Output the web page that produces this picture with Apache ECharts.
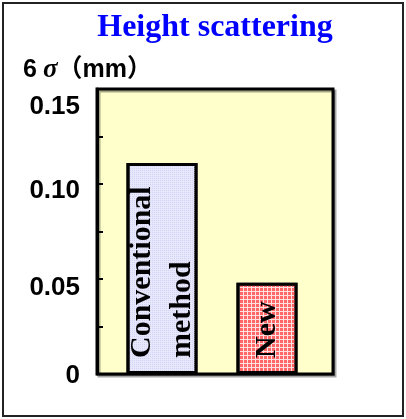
<!DOCTYPE html>
<html>
<head>
<meta charset="utf-8">
<script src="https://cdn.jsdelivr.net/npm/echarts@6/dist/echarts.min.js"></script>
<style>
  html, body { margin: 0; padding: 0; background: #fff; }
  #chart { width: 406px; height: 419px; }
</style>
</head>
<body>
<div id="chart"></div>
<script>
// Height scattering (6 sigma) for the two processes
const categories = ['Conventional\nmethod', 'New'];
const values = [0.111, 0.048];
const yTickValues = [0, 0.05, 0.1, 0.15];
const yTickLabels = ['0', '0.05', '0.10', '0.15'];

// downward nudge (px) of each tick label
const labelShift = [2, 9, 7, 18];

const chart = echarts.init(document.getElementById('chart'));

const barLabel = {
  show: true,
  position: 'insideBottom',
  rotate: 90,
  align: 'left',
  verticalAlign: 'middle',
  distance: 16,
  fontFamily: 'Liberation Serif',
  fontWeight: 'bold',
  fontSize: 30,
  lineHeight: 40,
  color: '#000',
  formatter: p => p.name
};

// one grid per bar so each bar keeps its own width and position
const barGrids = [
  { left: 112, right: 194, top: 89, bottom: 45 },
  { left: 217, right: 89, top: 89, bottom: 45 }
];
const barWidths = [71, 61];
const barStyles = [
  {
    color: '#e8e8fd',
    borderColor: '#000',
    borderWidth: 3,
    decal: { symbol: 'rect', symbolSize: 1, color: '#d2d2f5', dashArrayX: [1, 1], dashArrayY: [1, 1], rotation: 0 }
  },
  {
    color: '#ffe0e0',
    borderColor: '#000',
    borderWidth: 3,
    decal: { symbol: 'rect', symbolSize: 1, color: '#ff6666', dashArrayX: [3, 1], dashArrayY: [3, 1], rotation: 0 }
  }
];

const labelRich = {};
labelShift.forEach((s, i) => {
  labelRich['l' + i] = {
    fontFamily: 'Liberation Sans',
    fontWeight: 'bold',
    fontSize: 26,
    color: '#000',
    padding: [2 * s, 0, 0, 0]
  };
});

const option = {
  animation: false,
  title: [
    {
      text: 'Height scattering',
      left: 210,
      top: 7,
      textAlign: 'center',
      textStyle: { fontFamily: 'Liberation Serif', fontWeight: 'bold', fontSize: 32, color: '#0000ff' }
    },
    {
      text: '{a|6}{s|σ}{a|（mm）}',
      left: 18,
      top: 52,
      textStyle: {
        rich: {
          a: { fontFamily: 'Liberation Sans, Noto Sans CJK JP', fontWeight: 'bold', fontSize: 25, color: '#000' },
          s: { fontFamily: 'Liberation Serif', fontStyle: 'italic', fontSize: 27, color: '#000', padding: [0, 0, 0, 6] }
        }
      }
    }
  ],
  graphic: [
    {
      type: 'rect',
      shape: { x: 3, y: 3, width: 400, height: 413 },
      style: { fill: 'none', stroke: '#222', lineWidth: 2 },
      silent: true,
      z: -10
    }
  ],
  grid: [
    {
      left: 97, right: 73, top: 89, bottom: 45,
      show: true,
      backgroundColor: '#ffffcc',
      borderColor: '#000',
      borderWidth: 3,
      shadowColor: 'rgba(0,0,0,0.35)',
      shadowOffsetX: 2,
      shadowOffsetY: 2
    },
    ...barGrids
  ],
  xAxis: [
    { gridIndex: 0, type: 'category', data: [''], show: false },
    { gridIndex: 1, type: 'category', data: [categories[0]], show: false },
    { gridIndex: 2, type: 'category', data: [categories[1]], show: false }
  ],
  yAxis: [
    {
      gridIndex: 0,
      type: 'value',
      min: 0,
      max: 0.15,
      interval: 0.025,
      z: 5,
      axisLine: { show: true, lineStyle: { color: '#000', width: 3 } },
      axisTick: { show: true, inside: true, length: 6, lineStyle: { color: '#000', width: 2 } },
      splitLine: { show: false },
      axisLabel: {
        margin: 17,
        formatter: v => {
          const i = yTickValues.findIndex(t => Math.abs(t - v) < 1e-6);
          return i < 0 ? '' : '{l' + i + '|' + yTickLabels[i] + '}';
        },
        rich: labelRich
      }
    },
    { gridIndex: 1, type: 'value', min: 0, max: 0.15, show: false },
    { gridIndex: 2, type: 'value', min: 0, max: 0.15, show: false }
  ],
  series: [0, 1].map(i => ({
    type: 'bar',
    xAxisIndex: i + 1,
    yAxisIndex: i + 1,
    barWidth: barWidths[i],
    data: [values[i]],
    itemStyle: barStyles[i],
    label: barLabel
  }))
};

chart.setOption(option);
</script>
</body>
</html>
